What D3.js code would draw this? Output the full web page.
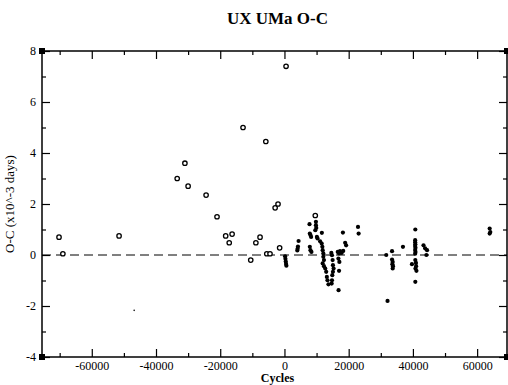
<!DOCTYPE html>
<html><head><meta charset="utf-8">
<script src="https://cdn.jsdelivr.net/npm/d3@7"></script>
<style>
body{margin:0;background:#fff;}
text{font-family:"Liberation Serif","Times New Roman",serif;fill:#000;}
</style></head>
<body>
<script>
// ---- data ----
const openX = [-70200,-69000,-51500,-33400,-31000,-30000,-24400,-21000,-18300,-17200,-16300,-12900,-10500,-8900,-7600,-5800,-5500,-4500,-2900,-2000,-1500,500,9600];
const openY = [0.7,0.05,0.75,3.0,3.6,2.7,2.35,1.5,0.75,0.48,0.82,5.0,-0.2,0.48,0.7,4.45,0.05,0.05,1.85,2.0,0.28,7.4,1.55];
const dotX = [200,300,400,500,600,
  4000,4100,4200,4400,
  7800,7900,8100,8300,7900,8100,8400,
  9800,9800,9900,9600,10100,10300,
  11650,
  11100,11600,11800,11900,12100,12100,12300,11900,12300,
  12700,13000,13200,13400,13700,
  14600,14800,15000,15100,15300,15100,14900,14800,14700,
  16850,
  16600,17000,17300,17800,18300,16800,17100,17000,
  18200,18900,19200,
  22900,23100,
  31700,32100,33500,
  33500,33700,33600,33800,33700,
  36900,40750,
  40700,40700,40750,40700,40800,40700,40800,40700,
  39700,
  40750,40950,41000,40800,41100,
  40750,
  43300,43800,44400,44200,
  63900,64100,63900];
const dotY = [-0.05,-0.15,-0.25,-0.35,-0.42,
  0.18,0.25,0.33,0.55,
  1.21,0.84,0.78,0.71,0.32,0.19,0.12,
  1.3,1.17,1.06,0.97,0.71,0.65,
  0.87,
  0.54,0.45,0.32,0.19,0.06,-0.07,-0.2,-0.33,-0.44,
  -0.53,-0.66,-0.86,-0.99,-1.15,
  0.08,-0.01,-0.2,-0.4,-0.53,-0.66,-0.79,-0.99,-1.12,
  -1.38,
  0.12,0.06,0.15,0.08,0.16,-0.14,-0.27,-0.62,
  0.88,0.48,0.38,
  1.1,0.84,
  0.0,-1.8,0.15,
  -0.18,-0.27,-0.36,-0.44,-0.53,
  0.32,1.0,
  0.58,0.5,0.42,0.35,0.28,0.2,0.12,0.05,
  -0.36,
  -0.2,-0.31,-0.44,-0.53,-0.62,
  -1.05,
  0.38,0.26,0.19,0.0,
  1.04,0.9,0.84];
const tinyX = [-46800];
const tinyY = [-2.17];
const xMajor = [-60000,-40000,-20000,0,20000,40000,60000];
const xMinor = [-70000,-50000,-30000,-10000,10000,30000,50000];
const yMajor = [-4,-2,0,2,4,6,8];
const yMinor = [-3,-1,1,3,5,7];
const titleText = "UX UMa O-C";
const xLabel = "Cycles";
const yLabel = "O-C (x10^-3 days)";

// ---- layout ----
const W = 508, H = 385;
const L = 42, R = 507, T = 51, B = 357;
const svg = d3.select("body").append("svg").attr("width", W).attr("height", H);
const x = d3.scaleLinear().domain([-75500, 69300]).range([L, R]);
const y = d3.scaleLinear().domain([-4, 8]).range([B, T]);

function styleAxis(g){
  g.select(".domain").remove();
  g.selectAll(".tick line").attr("stroke","#000").attr("stroke-width",1.2);
  g.selectAll(".tick text").style("font-size","12px").style("font-family","'Liberation Serif',serif");
}
const fmt = d => String(d);
// bottom
svg.append("g").attr("transform",`translate(0,${B})`)
  .call(d3.axisBottom(x).tickValues(xMajor).tickSizeInner(-8).tickSizeOuter(0).tickPadding(4).tickFormat(fmt)).call(styleAxis);
svg.append("g").attr("transform",`translate(0,${B})`)
  .call(d3.axisBottom(x).tickValues(xMinor).tickSizeInner(-4).tickSizeOuter(0).tickFormat("")).call(styleAxis);
// top
svg.append("g").attr("transform",`translate(0,${T})`)
  .call(d3.axisTop(x).tickValues(xMajor).tickSizeInner(-8).tickSizeOuter(0).tickFormat("")).call(styleAxis);
svg.append("g").attr("transform",`translate(0,${T})`)
  .call(d3.axisTop(x).tickValues(xMinor).tickSizeInner(-4).tickSizeOuter(0).tickFormat("")).call(styleAxis);
// left
svg.append("g").attr("transform",`translate(${L},0)`)
  .call(d3.axisLeft(y).tickValues(yMajor).tickSizeInner(-8).tickSizeOuter(0).tickPadding(6).tickFormat(fmt)).call(styleAxis);
svg.append("g").attr("transform",`translate(${L},0)`)
  .call(d3.axisLeft(y).tickValues(yMinor).tickSizeInner(-4).tickSizeOuter(0).tickFormat("")).call(styleAxis);
// right
svg.append("g").attr("transform",`translate(${R},0)`)
  .call(d3.axisRight(y).tickValues(yMajor).tickSizeInner(-8).tickSizeOuter(0).tickFormat("")).call(styleAxis);
svg.append("g").attr("transform",`translate(${R},0)`)
  .call(d3.axisRight(y).tickValues(yMinor).tickSizeInner(-4).tickSizeOuter(0).tickFormat("")).call(styleAxis);

// frame
svg.append("rect").attr("x",L).attr("y",T).attr("width",R-L).attr("height",B-T)
  .attr("fill","none").attr("stroke","#000").attr("stroke-width",1.5);
// corner markers
[[L,T],[L,B],[R,T],[R,B]].forEach(([cx,cy])=>{
  svg.append("rect").attr("x",cx-3).attr("y",cy-3).attr("width",6).attr("height",6).attr("fill","#000");
});

// zero line
svg.append("line").attr("x1",L).attr("x2",R).attr("y1",y(0)).attr("y2",y(0))
  .attr("stroke","#000").attr("stroke-width",1).attr("stroke-dasharray","9,5");

// open circles
svg.append("g").selectAll("circle").data(d3.range(openX.length)).join("circle")
  .attr("cx",i=>x(openX[i])).attr("cy",i=>y(openY[i])).attr("r",2.2)
  .attr("fill","#fff").attr("stroke","#000").attr("stroke-width",1.3);
// filled dots
svg.append("g").selectAll("circle").data(d3.range(dotX.length)).join("circle")
  .attr("cx",i=>x(dotX[i])).attr("cy",i=>y(dotY[i])).attr("r",2.1).attr("fill","#000");
// tiny dot
svg.append("g").selectAll("circle").data(d3.range(tinyX.length)).join("circle")
  .attr("cx",i=>x(tinyX[i])).attr("cy",i=>y(tinyY[i])).attr("r",0.8).attr("fill","#000");

// texts
svg.append("text").attr("x",(L+R)/2+3).attr("y",24).attr("text-anchor","middle")
  .style("font-size","17px").style("font-weight","bold").text(titleText);
svg.append("text").attr("x",(L+R)/2+3).attr("y",382).attr("text-anchor","middle")
  .style("font-size","12px").style("font-weight","bold").text(xLabel);
svg.append("text").attr("transform",`translate(14,${(T+B)/2}) rotate(-90)`).attr("text-anchor","middle")
  .style("font-size","13px").text(yLabel);
</script>
</body></html>
